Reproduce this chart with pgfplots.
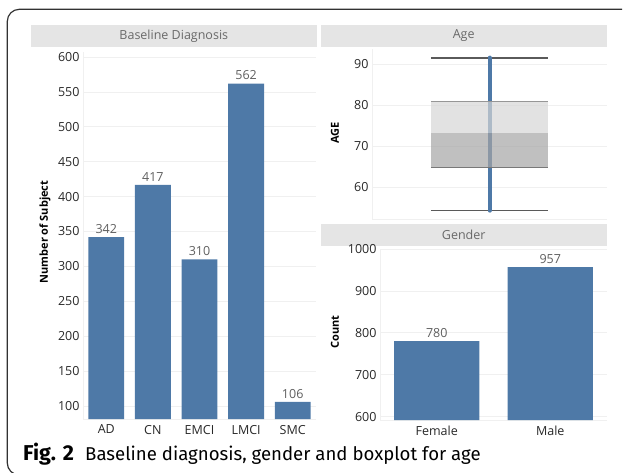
\documentclass[border=0pt]{standalone}
\usepackage{fontspec}
\setmainfont{Open Sans}
\newfontfamily\capfont{Fira Sans}
\usepackage{pgfplots}
\pgfplotsset{compat=1.18}

\definecolor{barblue}{RGB}{78,121,167}
\definecolor{stripgray}{RGB}{229,229,229}
\definecolor{striptext}{RGB}{105,105,105}
\definecolor{ticktext}{RGB}{40,40,40}
\definecolor{valtext}{RGB}{95,95,95}
\definecolor{gridgray}{RGB}{240,240,240}
\definecolor{boxlight}{RGB}{214,214,214}
\definecolor{boxdark}{RGB}{165,165,165}
\definecolor{boxline}{RGB}{150,150,150}
\definecolor{whisk}{RGB}{90,90,90}
\definecolor{framegray}{RGB}{50,50,50}

\pgfplotsset{
  panel/.style={
    scale only axis,
    anchor=south west,
    enlargelimits=false,
    axis x line*=bottom,
    axis y line*=left,
    axis line style={draw=gridgray},
    major tick length=0pt,
    ymajorgrids,
    grid style={draw=gridgray, line width=0.8pt},
    tick label style={font=\fontsize{12.5}{14}\selectfont, text=ticktext},
    xticklabel style={yshift=-2.5pt},
    /pgf/number format/assume math mode=true,
    /pgf/number format/1000 sep={},
  },
  vals/.style={
    nodes near coords,
    nodes near coords style={font=\fontsize{12.5}{14}\selectfont, text=valtext},
  },
}

\begin{document}
\begin{tikzpicture}
\useasboundingbox (0pt,0pt) rectangle (624pt,472pt);

% frame
\draw[framegray, line width=1.2pt, rounded corners=12pt]
  (622pt,462.7pt) -- (7.3pt,462.7pt) -- (7.3pt,-3pt) -- (40pt,-3pt);

% strip headers
\fill[stripgray] (31pt,425.3pt) rectangle (316.7pt,447pt);
\node[text=striptext, font=\fontsize{12.5}{14}\selectfont] at (173.8pt,436.2pt) {Baseline Diagnosis};
\fill[stripgray] (321pt,425.3pt) rectangle (606.5pt,447pt);
\node[text=striptext, font=\fontsize{12.5}{14}\selectfont] at (463.7pt,436.2pt) {Age};
\fill[stripgray] (321pt,226pt) rectangle (606.5pt,248pt);
\node[text=striptext, font=\fontsize{12.5}{14}\selectfont] at (463.7pt,237pt) {Gender};

% baseline diagnosis
\begin{axis}[panel, vals,
  at={(83pt,53pt)}, width=233pt, height=367pt,
  xmin=-0.5, xmax=4.5, ymin=81.4, ymax=607.2,
  ytick={100,150,...,600},
  xtick={0,1,2,3,4},
  xticklabels={AD,CN,EMCI,LMCI,SMC},
  ybar, bar width=0.77]
\addplot[fill=barblue, draw=none] coordinates {(0,342) (1,417) (2,310) (3,562) (4,106)};
\end{axis}

% age boxplot
\begin{axis}[panel,
  at={(372pt,252.7pt)}, width=235pt, height=170.3pt,
  xmin=-1, xmax=1, ymin=52.2, ymax=93.7,
  ytick={60,70,80,90}, xtick=\empty]
\addplot[whisk, line width=1.3pt] coordinates {(-0.5,91.5) (0.5,91.5)};
\addplot[whisk, line width=1.3pt] coordinates {(-0.5,54.4) (0.5,54.4)};
\addplot[barblue, line width=4pt, line cap=round] coordinates {(0,54.3) (0,91.6)};
\addplot[fill=boxlight, fill opacity=0.7, draw=none] coordinates {(-0.5,73.2) (0.5,73.2) (0.5,81.0) (-0.5,81.0)} -- cycle;
\addplot[fill=boxdark, fill opacity=0.7, draw=none] coordinates {(-0.5,64.9) (0.5,64.9) (0.5,73.2) (-0.5,73.2)} -- cycle;
\addplot[boxline, line width=0.9pt] coordinates {(-0.5,81.0) (0.5,81.0)};
\addplot[boxline!80!black, line width=0.9pt] coordinates {(-0.5,64.9) (0.5,64.9)};
\end{axis}

% gender
\begin{axis}[panel, vals,
  at={(380pt,52pt)}, width=227pt, height=171pt,
  xmin=-0.5, xmax=1.5, ymin=592, ymax=1000,
  ytick={600,700,...,1000},
  xtick={0,1},
  xticklabels={Female,Male},
  ybar, bar width=0.75]
\addplot[fill=barblue, draw=none] coordinates {(0,780) (1,957)};
\end{axis}

% axis titles
\node[rotate=90, font=\bfseries\fontsize{11}{13}\selectfont] at (45pt,240pt) {Number of Subject};
\node[rotate=90, font=\bfseries\fontsize{11}{13}\selectfont] at (335pt,339pt) {AGE};
\node[rotate=90, font=\bfseries\fontsize{11}{13}\selectfont] at (335pt,140pt) {Count};

% caption
\node[anchor=base west, inner sep=0pt, font=\capfont\bfseries\fontsize{21.5}{24}\selectfont] at (23pt,12pt) {Fig. 2};
\node[anchor=base west, inner sep=0pt, font=\capfont\fontsize{18.6}{22}\selectfont] at (85pt,12pt) {Baseline diagnosis, gender and boxplot for age};
\end{tikzpicture}
\end{document}
